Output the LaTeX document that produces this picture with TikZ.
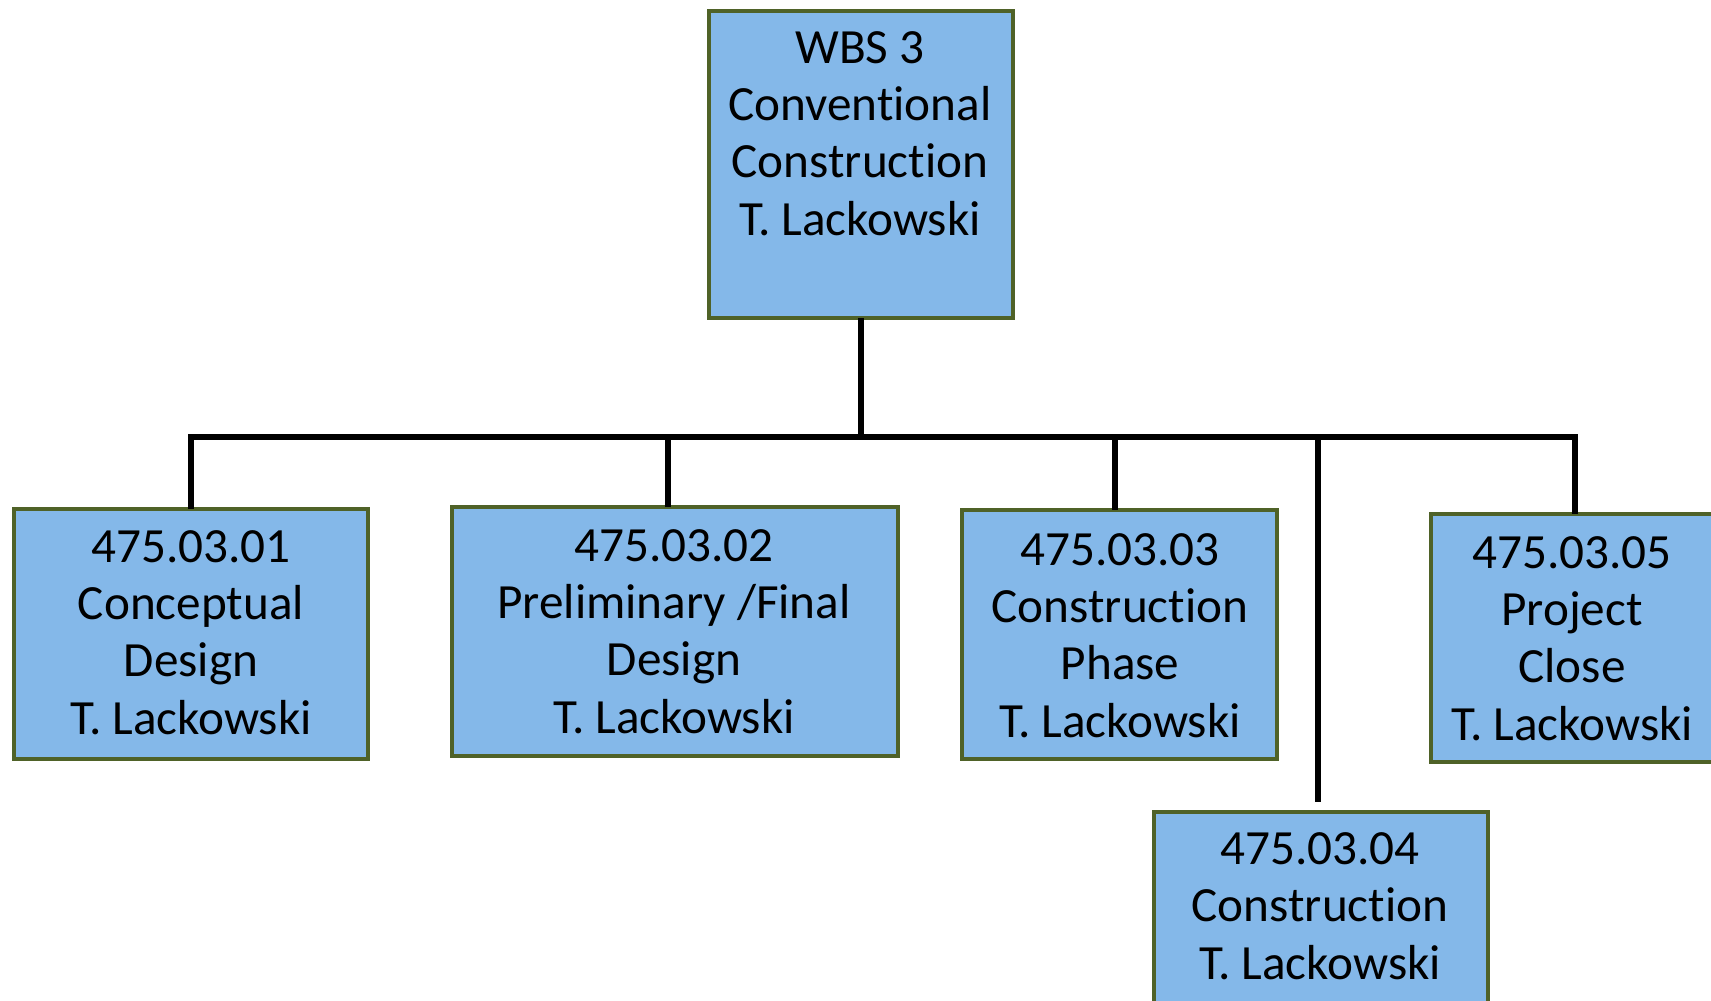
\documentclass[tikz,border=0pt]{standalone}
\usepackage{fontspec}
\setmainfont[Ligatures={NoCommon}]{Carlito}
\definecolor{boxfill}{RGB}{132,184,233}
\definecolor{boxline}{RGB}{79,98,40}
\begin{document}
\begin{tikzpicture}[x=0.5pt,y=-0.5pt,
  box/.style={draw=boxline, fill=boxfill, line width=2.4pt, inner sep=0pt, outer sep=0pt, anchor=north west},
  lbl/.style={align=center, inner sep=0pt, anchor=base, font=\fontsize{24.6}{28.6}\selectfont},
  conn/.style={line width=3pt, draw=black}]
\useasboundingbox (0,0) rectangle (1711,1000);
\clip (0,0) rectangle (1711,1000);
% bus coordinates
\coordinate (bL) at (191,437);
\coordinate (bR) at (1578,437);
\coordinate (j2) at (668,437);
\coordinate (j3) at (1115,437);
\coordinate (j4) at (1318,437);
\coordinate (e4) at (1318,802);
\coordinate (j5) at (1575,437);
% boxes
\node[box, minimum width=152pt, minimum height=153.5pt] (top) at (709,11) {};
\node[box, minimum width=177pt, minimum height=125pt] (b1) at (14,509) {};
\node[box, minimum width=223pt, minimum height=124.5pt] (b2) at (452,507) {};
\node[box, minimum width=157.5pt, minimum height=124.5pt] (b3) at (962,510) {};
\node[box, minimum width=167pt, minimum height=144pt] (b4) at (1154,812) {};
\node[box, minimum width=142.5pt, minimum height=124pt] (b5) at (1431,514) {};
% connectors
\draw[conn] (top.south) -- (top.south |- bL);
\draw[conn] (bL |- b1.north) -- (bL) -- (bR);
\draw[conn] (j2) -- (j2 |- b2.north);
\draw[conn] (j3) -- (j3 |- b3.north);
\draw[conn] (j4) -- (e4);
\draw[conn] (j5) -- (j5 |- b5.north);
% labels (anchor = baseline of last line)
\node[lbl] (t0) at (860,235) {WBS 3\\Conventional\\Construction\\T. Lackowski};
\node[lbl] (t1) at (191,734) {475.03.01\\Conceptual\\Design\\T. Lackowski};
\node[lbl] (t2) at (674,733) {475.03.02\\Preliminary /Final\\Design\\T. Lackowski};
\node[lbl] (t3) at (1120,737) {475.03.03\\Construction\\Phase\\T. Lackowski};
\node[lbl] (t4) at (1320,979) {475.03.04\\Construction\\T. Lackowski};
\node[lbl] (t5) at (1572,740) {475.03.05\\Project\\Close\\T. Lackowski};
\end{tikzpicture}
\end{document}
